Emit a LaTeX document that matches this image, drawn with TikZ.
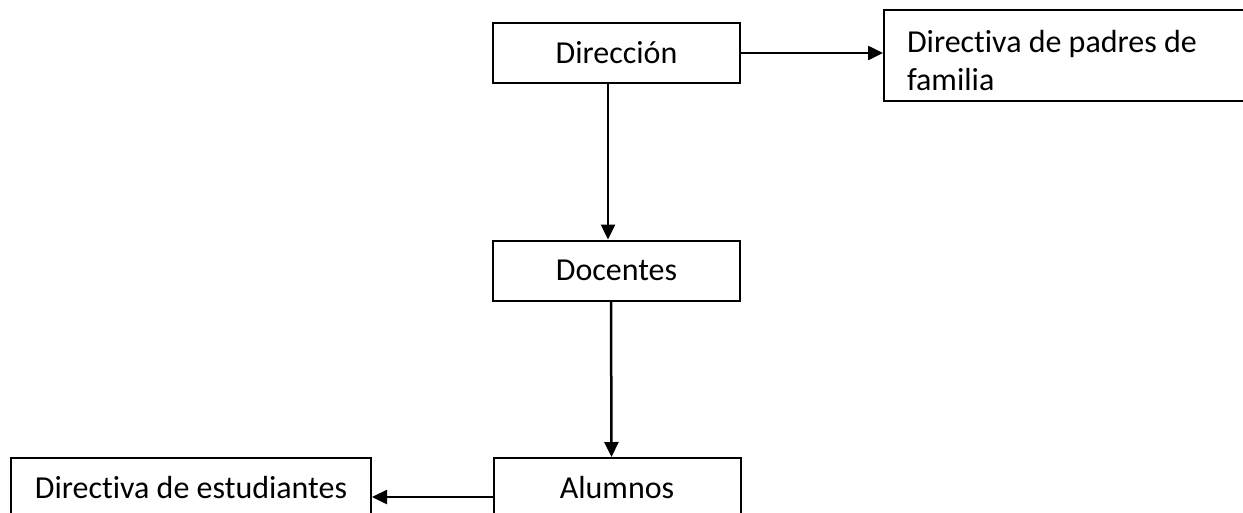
\documentclass[tikz,border=0pt]{standalone}
\usepackage{fontspec}
\setmainfont[Ligatures=NoCommon]{Carlito}
\usepackage{tikz}
\usetikzlibrary{arrows.meta,positioning}

\begin{document}
\begin{tikzpicture}[
    box/.style={draw, line width=0.04cm, minimum width=4.94cm, minimum height=1.2cm, inner sep=0pt},
    link/.style={-{Triangle[length=0.3cm,width=0.28cm]}, line width=0.05cm}
  ]
    \useasboundingbox (0,0) rectangle (24.86,-10.24);
    \fontsize{18.2pt}{22pt}\selectfont

    % Boxes
    \node[box] (dir) at (12.33,-1.06) {Dirección};
    \node[box, minimum width=7.72cm, minimum height=1.82cm, text width=6.8cm,
          inner xsep=0.46cm, align=flush left, text height=0.5cm, text depth=0.64cm]
      (padres) at (21.54,-1.11) {Directiva de padres de\\familia};
    \node[box] (doc) at (12.33,-5.41) {Docentes};
    \node[box] (alu) at (12.34,-9.76) {Alumnos};
    \node[box, minimum width=7.2cm] (est) at (3.82,-9.76) {Directiva de estudiantes};

    % Arrows
    \draw[link] (dir.east) -- (dir.east -| padres.west);
    \draw[link] ([xshift=-0.17cm]dir.south) -- ([xshift=-0.17cm]doc.north);
    \draw[link] ([xshift=-0.11cm]doc.south) -- ([xshift=-0.11cm]alu.north);
    \draw[link] ([yshift=-0.18cm]alu.west) -- ([yshift=-0.18cm]alu.west -| est.east);
  \end{tikzpicture}
\end{document}
